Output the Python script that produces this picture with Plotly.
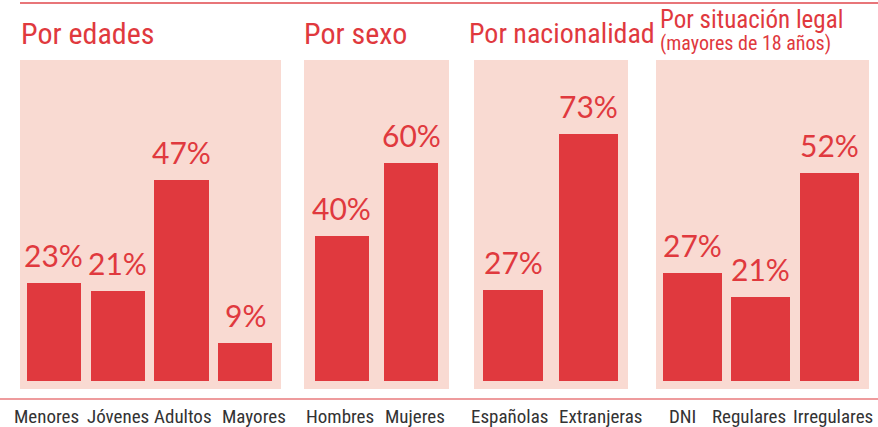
import plotly.graph_objects as go

# ---- data ----
edades_cats = ["Menores", "Jóvenes", "Adultos", "Mayores"]
edades_vals = [23, 21, 47, 9]
sexo_cats = ["Hombres", "Mujeres"]
sexo_vals = [40, 60]
nac_cats = ["Españolas", "Extranjeras"]
nac_vals = [27, 73]
legal_cats = ["DNI", "Regulares", "Irregulares"]
legal_vals = [27, 21, 52]

titles = ["Por edades", "Por sexo", "Por nacionalidad", "Por situación legal"]
subtitle = "(mayores de 18 años)"

W, H = 878, 427
BAR = "#E0393E"
PINK = "#F9DAD2"
RED_TXT = "#E0393E"
LABEL_FONT = "Roboto Condensed, DejaVu Sans Condensed, sans-serif"
PCT_FONT = "Lato, sans-serif"

panels = [
    dict(cats=edades_cats, vals=edades_vals, px=(20, 281), xr=[-0.53, 3.56], yr=[-1.87, 75.2],
         width=0.85, lshift=[-7, 0, 2, 9]),
    dict(cats=sexo_cats, vals=sexo_vals, px=(304, 449), xr=[-0.55, 1.55], yr=[-2.2, 88.4],
         width=0.78, lshift=[-2, 4]),
    dict(cats=nac_cats, vals=nac_vals, px=(474, 628), xr=[-0.52, 1.53], yr=[-2.37, 95.0],
         width=0.79, lshift=[-4, 12]),
    dict(cats=legal_cats, vals=legal_vals, px=(656, 869), xr=[-0.53, 2.58], yr=[-2.0, 80.25],
         width=0.86, lshift=[-10, -12, 4]),
]

y_dom = [1 - 389 / H, 1 - 60 / H]

fig = go.Figure()
annotations = []
layout_axes = {}
for i, p in enumerate(panels):
    n = "" if i == 0 else str(i + 1)
    fig.add_trace(go.Bar(
        x=p["cats"], y=p["vals"], xaxis="x" + n, yaxis="y" + n,
        marker=dict(color=BAR, line=dict(width=0)), width=p["width"],
        hoverinfo="skip", showlegend=False,
    ))
    layout_axes["xaxis" + n] = dict(
        domain=[p["px"][0] / W, p["px"][1] / W], range=p["xr"], anchor="y" + n,
        type="category", showgrid=False, zeroline=False, showline=False, ticks="",
        showticklabels=False, automargin=False, fixedrange=True,
    )
    layout_axes["yaxis" + n] = dict(
        domain=y_dom, range=p["yr"], anchor="x" + n, showgrid=False, zeroline=False,
        showline=False, showticklabels=False, ticks="", fixedrange=True, automargin=False,
    )
    for c, v, sh in zip(p["cats"], p["vals"], p["lshift"]):
        # value label above bar
        annotations.append(dict(
            x=c, y=v, xref="x" + n, yref="y" + n, text=f"{v}%", showarrow=False,
            yanchor="middle", yshift=28,
            font=dict(family=PCT_FONT, size=30, color=RED_TXT),
        ))
        # category label below the baseline rule
        annotations.append(dict(
            x=c, y=1 - 416 / H, xref="x" + n, yref="paper", text=c, showarrow=False,
            yanchor="middle", xshift=sh,
            font=dict(family=LABEL_FONT, size=19, color="#333333"),
        ))

# titles
title_pos = [(19, 34, 30), (302, 34, 30), (467, 34, 28), (658, 19, 25)]
for t, (tx, ty, fs) in zip(titles, title_pos):
    annotations.append(dict(
        x=tx / W, y=1 - ty / H, xref="paper", yref="paper", text=t, showarrow=False,
        xanchor="left", yanchor="middle",
        font=dict(family=LABEL_FONT, size=fs, color=RED_TXT),
    ))
annotations.append(dict(
    x=658 / W, y=1 - 43 / H, xref="paper", yref="paper", text=subtitle, showarrow=False,
    xanchor="left", yanchor="middle",
    font=dict(family=LABEL_FONT, size=20, color=RED_TXT),
))

shapes = [
    dict(type="line", xref="paper", yref="paper", x0=20 / W, x1=1, y0=1 - 3 / H, y1=1 - 3 / H,
         line=dict(color="#E0474C", width=1.3)),
    dict(type="line", xref="paper", yref="paper", x0=0, x1=1, y0=1 - 399 / H, y1=1 - 399 / H,
         line=dict(color="#E87A7D", width=1.5)),
]

fig.update_layout(
    width=W, height=H, autosize=False,
    margin=dict(l=0, r=0, t=0, b=0, autoexpand=False),
    paper_bgcolor="white", plot_bgcolor=PINK,
    annotations=annotations, shapes=shapes, bargap=0,
    **layout_axes,
)

fig.write_html(
    "out.html", config={"displayModeBar": False},
    post_script="document.body.style.margin='0';document.body.style.overflow='hidden';",
)
